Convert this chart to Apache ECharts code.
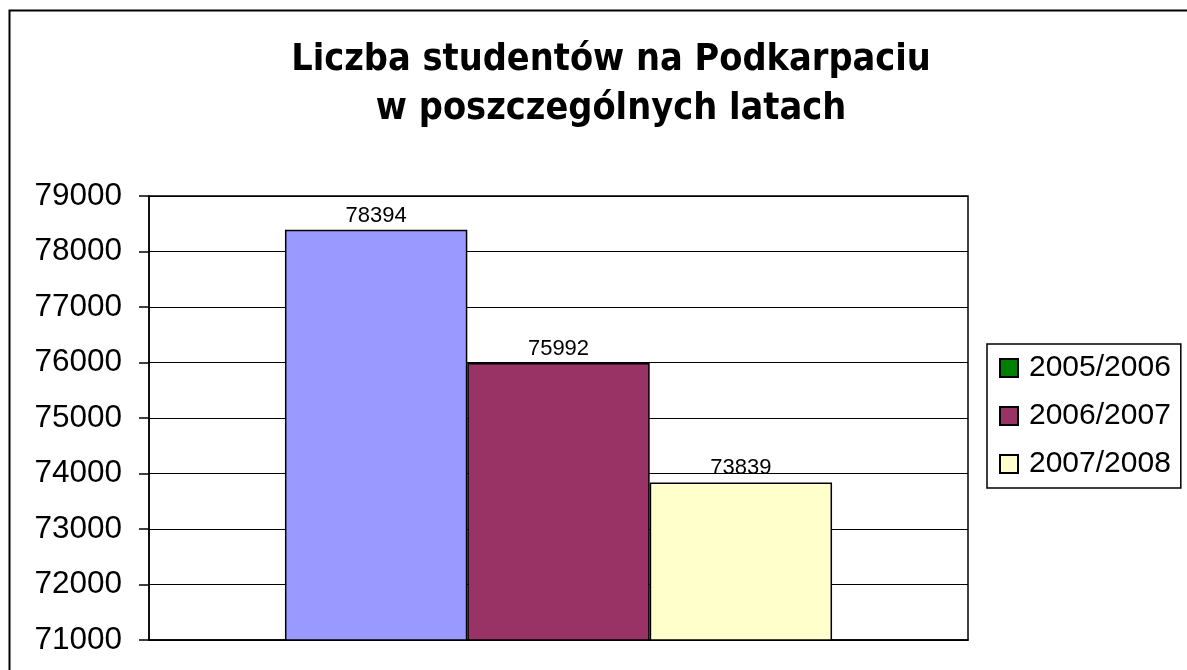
<!DOCTYPE html>
<html>
<head>
<meta charset="utf-8">
<script src="https://cdn.jsdelivr.net/npm/echarts@6/dist/echarts.min.js"></script>
<style>
  html, body { margin: 0; padding: 0; background: #fff; }
  #chart { width: 1187px; height: 670px; }
</style>
</head>
<body>
<div id="chart"></div>
<script>
// dane
var categories = [''];
var seriesNames = ['2005/2006', '2006/2007', '2007/2008'];
var seriesValues = [[78394], [75992], [73839]];
var legendColors = ['#008000', '#993366', '#FFFFCC'];
var barColors = ['#9999FF', '#993366', '#FFFFCC'];
var yTicks = { min: 71000, max: 79000, step: 1000 };

var chart = echarts.init(document.getElementById('chart'));

var series = seriesNames.map(function (name, i) {
    return {
        name: name,
        type: 'bar',
        barGap: 0,
        barCategoryGap: '33.2%',
        itemStyle: { color: legendColors[i], borderColor: '#000', borderWidth: 1.5 },
        data: seriesValues[i].map(function (v) {
            return { value: v, itemStyle: { color: barColors[i] } };
        }),
        label: {
            show: true,
            position: 'top',
            distance: 3,
            color: '#000',
            fontSize: 22,
            fontFamily: 'Liberation Sans'
        }
    };
});

chart.setOption({
    animation: false,
    backgroundColor: '#fff',
    title: {
        text: 'Liczba studentów na Podkarpaciu\nw poszczególnych latach',
        left: 606,
        top: 31,
        textAlign: 'center',
        textStyle: {
            fontFamily: 'DejaVu Sans Condensed',
            fontWeight: 'bold',
            fontSize: 37.5,
            lineHeight: 49,
            color: '#000'
        }
    },
    legend: {
        orient: 'vertical',
        left: 987,
        top: 344,
        padding: [9, 10, 9, 12],
        itemWidth: 18,
        itemHeight: 18,
        itemGap: 18,
        icon: 'rect',
        borderColor: '#000',
        borderWidth: 1.5,
        textStyle: {
            fontFamily: 'Liberation Sans',
            fontSize: 30,
            color: '#000',
            padding: [0, 0, 0, 6]
        },
        data: seriesNames
    },
    grid: {
        left: 149,
        top: 196,
        right: 219,
        bottom: 30,
        show: true,
        borderColor: '#000',
        borderWidth: 1.5
    },
    xAxis: {
        type: 'category',
        data: categories,
        axisLine: { show: true, lineStyle: { color: '#000', width: 1.5 } },
        axisTick: { show: false },
        axisLabel: { show: false }
    },
    yAxis: {
        type: 'value',
        min: yTicks.min,
        max: yTicks.max,
        interval: yTicks.step,
        axisLine: { show: true, lineStyle: { color: '#000', width: 1.5 } },
        axisTick: { show: true, length: 10, lineStyle: { color: '#000', width: 1.5 } },
        axisLabel: {
            margin: 27,
            fontFamily: 'Liberation Sans',
            fontSize: 31.5,
            color: '#000',
            formatter: function (v) { return String(v); }
        },
        splitLine: { show: true, lineStyle: { color: '#000', width: 1.2 } }
    },
    graphic: [{
        type: 'rect',
        left: 7,
        top: 8,
        shape: { width: 1220, height: 700 },
        style: { fill: 'none', stroke: '#000', lineWidth: 2 },
        silent: true
    }],
    series: series
});
</script>
</body>
</html>
